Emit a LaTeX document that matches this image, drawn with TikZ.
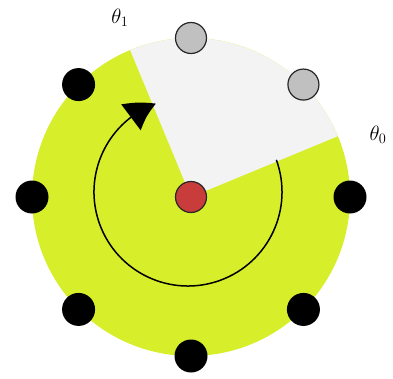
\documentclass[tikz,border=0pt]{standalone}
\usetikzlibrary{arrows.meta,bending}
\definecolor{lime}{RGB}{215,238,42}
\definecolor{wedge}{RGB}{243,243,243}
\definecolor{greydot}{RGB}{192,192,192}
\definecolor{reddot}{RGB}{200,60,60}
\tikzset{
  blackdot/.style={circle,fill=black,minimum size=33pt,inner sep=0pt},
  greyball/.style={circle,fill=greydot,draw=black!85,line width=1.2pt,minimum size=31pt,inner sep=0pt},
  redball/.style={circle,fill=reddot,draw=black!85,line width=1.2pt,minimum size=31pt,inner sep=0pt},
  lbl/.style={font=\fontsize{22}{26}\selectfont,inner sep=0pt}
}
\begin{document}
\begin{tikzpicture}[x=1pt,y=1pt]
\useasboundingbox (0,0) rectangle (393,378);
\coordinate (C) at (191,181);
\fill[lime] (C) circle[radius=159];
\fill[wedge] (C) -- ++(22.5:159) arc[start angle=22.5,end angle=112.5,radius=159] -- cycle;
\draw[line width=1.5pt,-{Triangle[length=29pt,width=32pt,bend]}] ([shift={(-3,5)}]C) ++(20:94) arc[start angle=20,end angle=-250,radius=94];
\foreach \a/\n in {0/d0,135/d3,180/d4,225/d5,270/d6,315/d7}{
  \node[blackdot] (\n) at ([shift={(\a:159)}]C) {};
}
\node[greyball] (d1) at ([shift={(45:159)}]C) {};
\node[greyball] (d2) at ([shift={(90:159)}]C) {};
\node[redball] (ctr) at (C) {};
\node[lbl] (t1) at (120,360) {$\theta_1$};
\node[lbl] (t0) at (378,243) {$\theta_0$};
\end{tikzpicture}
\end{document}
